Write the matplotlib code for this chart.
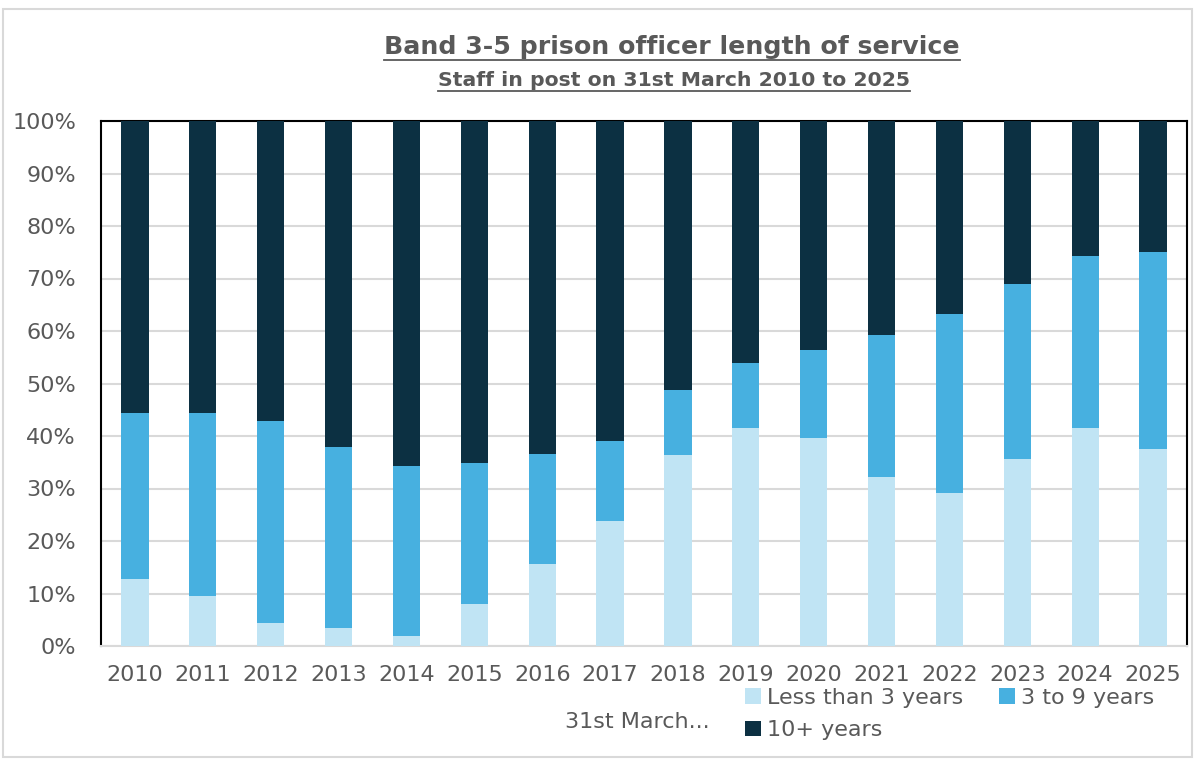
import matplotlib
matplotlib.use("Agg")
import matplotlib.pyplot as plt
from matplotlib import font_manager
from matplotlib.patches import Rectangle
from matplotlib.lines import Line2D
import numpy as np

# staff in post by length of service, % of band 3-5 officers
years = ["2010", "2011", "2012", "2013", "2014", "2015", "2016", "2017",
         "2018", "2019", "2020", "2021", "2022", "2023", "2024", "2025"]
under_3 = [12.7, 9.5, 4.3, 3.5, 2.0, 8.0, 15.6, 23.9,
           36.4, 41.6, 39.7, 32.2, 29.1, 35.6, 41.6, 37.5]
three_to_9 = [31.7, 34.9, 38.6, 34.5, 32.2, 26.8, 20.9, 15.1,
              12.3, 12.3, 16.6, 27.0, 34.2, 33.3, 32.6, 37.6]
ten_plus = [100 - a - b for a, b in zip(under_3, three_to_9)]

series_labels = ["Less than 3 years", "3 to 9 years", "10+ years"]
colors = ["#c0e4f4", "#47b0e0", "#0c3042"]

# pick a condensed font if there is one
names = {f.name for f in font_manager.fontManager.ttflist}
family = "Liberation Sans Narrow" if "Liberation Sans Narrow" in names else "DejaVu Sans"
plt.rcParams["font.family"] = family
grey = "#595959"

fig = plt.figure(figsize=(11.95, 7.61), dpi=100)
fig.patches.append(Rectangle((3 / 1195, 0.005), 1 - 6 / 1195, 1 - 9 / 761 - 0.005,
                             transform=fig.transFigure, fill=False,
                             edgecolor="#d9d9d9", linewidth=1.5))

ax = fig.add_axes([101 / 1195, 115 / 761, 1086 / 1195, 525 / 761])
x = np.arange(len(years))
bottom = np.zeros(len(years))
bars = []
for vals, lab, col in zip([under_3, three_to_9, ten_plus], series_labels, colors):
    b = ax.bar(x, vals, width=0.4, bottom=bottom, color=col, label=lab, zorder=3)
    bars.append(b)
    bottom += np.array(vals)

ax.set_xlim(-0.5, len(years) - 0.5)
ax.set_ylim(0, 100)
ax.set_yticks(range(0, 101, 10))
ax.set_yticklabels([f"{v}%" for v in range(0, 101, 10)])
ax.set_xticks(x)
ax.set_xticklabels(years)
ax.tick_params(axis="both", length=0, labelsize=16, colors=grey)
ax.tick_params(axis="y", pad=18)
ax.tick_params(axis="x", pad=14)
ax.yaxis.grid(True, color="#d9d9d9", linewidth=1.5, zorder=0)
ax.set_axisbelow(True)
for s in ["left", "top", "right"]:
    ax.spines[s].set_color("black")
    ax.spines[s].set_linewidth(1.5)
ax.spines["bottom"].set_color("#d9d9d9")
ax.spines["bottom"].set_linewidth(1.5)

fig.text(637 / 1195, 1 - 722 / 761, "31st March...", ha="center", va="center",
         fontsize=16, color=grey)

# legend fills column by column, so order for two rows: first two on top
order = [0, 2, 1]
leg = fig.legend([bars[i] for i in order], [series_labels[i] for i in order],
                 loc="upper left", bbox_to_anchor=(745 / 1195, 1 - 688 / 761),
                 ncol=2, frameon=False, fontsize=16, handlelength=0.7,
                 handleheight=0.7, handletextpad=0.3, columnspacing=1.6,
                 labelspacing=0.55, borderaxespad=0, borderpad=0)
for t in leg.get_texts():
    t.set_color(grey)

title = fig.text(672 / 1195, 1 - 47 / 761, "Band 3-5 prison officer length of service",
                 ha="center", va="center", fontsize=18.2, fontweight="bold", color=grey)
subtitle = fig.text(674 / 1195, 1 - 80 / 761, "Staff in post on 31st March 2010 to 2025",
                    ha="center", va="center", fontsize=14.7, fontweight="bold", color=grey)

# underline both headings
fig.canvas.draw()
inv = fig.transFigure.inverted()
for t in (title, subtitle):
    bb = t.get_window_extent().transformed(inv)
    y = bb.y0 - 1 / 761
    fig.lines.append(Line2D([bb.x0, bb.x1], [y, y], transform=fig.transFigure,
                            color=grey, linewidth=1.3))

fig.savefig("out.png", dpi=100)
